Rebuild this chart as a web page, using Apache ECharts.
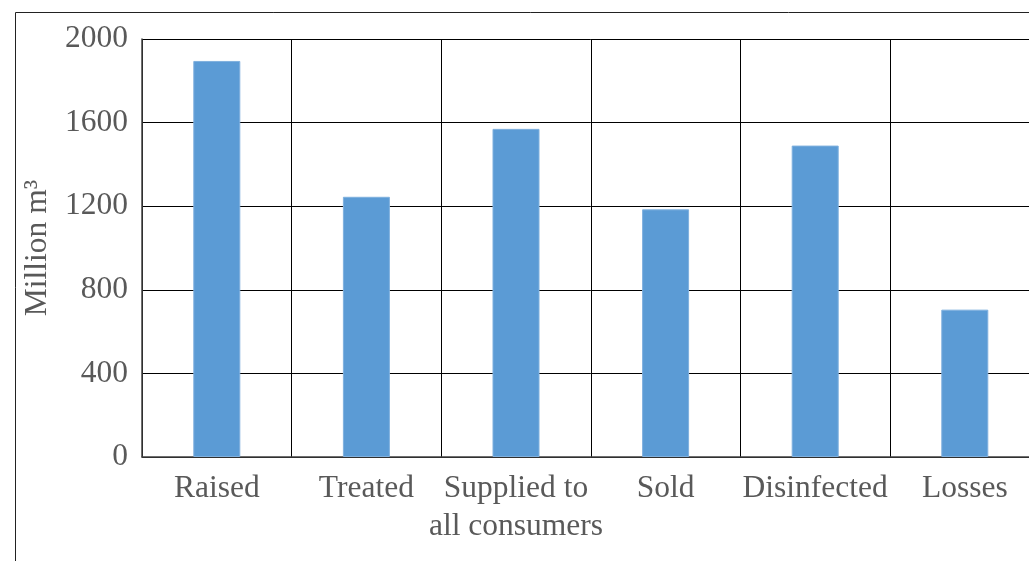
<!DOCTYPE html>
<html>
<head>
<meta charset="utf-8">
<script src="https://cdn.jsdelivr.net/npm/echarts@6/dist/echarts.min.js"></script>
<style>
  html, body { margin: 0; padding: 0; background: #fff; overflow: hidden; }
  #chart { width: 1045px; height: 561px; }
</style>
</head>
<body>
<div id="chart"></div>
<script>
// Water balance volumes, million cubic metres
const categories = ['Raised', 'Treated', 'Supplied to\nall consumers', 'Sold', 'Disinfected', 'Losses'];
const volumes = [1895, 1245, 1570, 1185, 1490, 705];
const yTicks = { min: 0, max: 2000, step: 400 };

const textGray = '#595959';
const fontFamily = '"Liberation Serif", "Times New Roman", serif';

const chart = echarts.init(document.getElementById('chart'), null, { renderer: 'canvas' });

chart.setOption({
  backgroundColor: '#ffffff',
  animation: false,
  graphic: [{
    type: 'rect',
    shape: { x: 15.5, y: 12.5, width: 1200, height: 700 },
    style: { fill: 'none', stroke: '#222', lineWidth: 1 },
    silent: true,
    z: -1
  }],
  grid: { left: 142, top: 39, width: 897.6, height: 418, containLabel: false },
  xAxis: {
    type: 'category',
    data: categories,
    axisLine: { show: true, lineStyle: { color: '#404040', width: 1.5 } },
    axisTick: { show: false },
    splitLine: { show: true, interval: 0, lineStyle: { color: '#000', width: 1 } },
    axisLabel: {
      interval: 0,
      color: textGray,
      fontFamily: fontFamily,
      fontSize: 31.5,
      lineHeight: 38,
      margin: 13
    }
  },
  yAxis: {
    type: 'value',
    min: yTicks.min,
    max: yTicks.max,
    interval: yTicks.step,
    name: 'Million m³',
    nameLocation: 'middle',
    nameRotate: 90,
    nameGap: 86,
    nameTextStyle: { color: textGray, fontFamily: fontFamily, fontSize: 31.5 },
    axisLine: { show: true, lineStyle: { color: '#404040', width: 1.5 } },
    axisTick: { show: false },
    splitLine: { show: true, lineStyle: { color: '#000', width: 1 } },
    axisLabel: {
      color: textGray,
      fontFamily: fontFamily,
      fontSize: 31.5,
      margin: 14,
      formatter: (v) => String(v)
    }
  },
  series: [{
    type: 'bar',
    data: volumes,
    barWidth: 47,
    itemStyle: { color: '#5B9BD5', borderColor: '#7fb0de', borderWidth: 1 }
  }]
});
</script>
</body>
</html>
